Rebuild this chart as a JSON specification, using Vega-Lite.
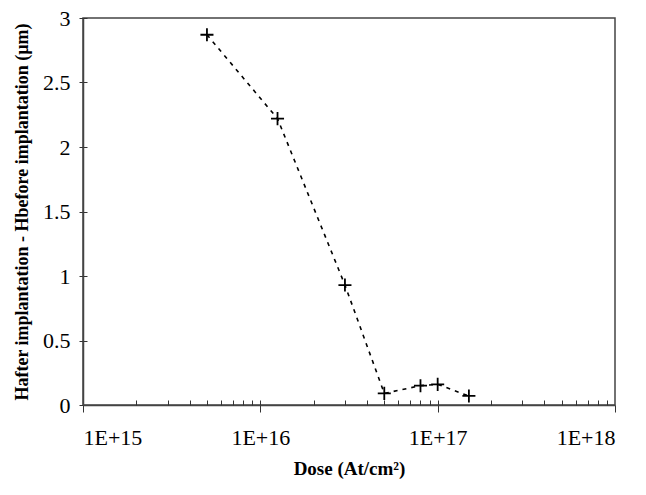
{
  "$schema": "https://vega.github.io/schema/vega-lite/v6.json",
  "width": 532,
  "height": 387,
  "autosize": {"type": "none"},
  "padding": {"left": 83, "top": 18, "right": 31, "bottom": 90},
  "background": "white",
  "config": {
    "view": {"stroke": "#444", "strokeWidth": 1.5},
    "font": "Liberation Serif",
    "axis": {"grid": false, "labelFont": "Liberation Serif", "titleFont": "Liberation Serif", "labelColor": "black", "titleColor": "black", "tickColor": "#333", "domainColor": "#444", "domainWidth": 1.5, "tickWidth": 1}
  },
  "data": {
    "values": [
      {"dose": 5e15, "dh": 2.87},
      {"dose": 1.25e16, "dh": 2.22},
      {"dose": 3e16, "dh": 0.93},
      {"dose": 5e16, "dh": 0.09},
      {"dose": 8e16, "dh": 0.15},
      {"dose": 1e17, "dh": 0.16},
      {"dose": 1.5e17, "dh": 0.07}
    ]
  },
  "layer": [
    {
      "mark": {"type": "line", "color": "black", "strokeWidth": 1.6, "strokeDash": [4, 5]},
      "encoding": {
        "x": {"field": "dose", "type": "quantitative",
          "scale": {"type": "log", "domain": [1e15, 1e18]},
          "axis": {"orient": "bottom", "values": [1e15, 1e16, 1e17, 1e18], "tickSize": 7,
            "labelExpr": "'1E+' + round(log(datum.value)/LN10)", "labelFontSize": 22, "labelPadding": 15,
            "title": "Dose (At/cm²)", "titleFontSize": 19, "titleFontWeight": "bold", "titlePadding": 11}},
        "y": {"field": "dh", "type": "quantitative",
          "scale": {"domain": [0, 3], "nice": false, "zero": true},
          "axis": {"orient": "left", "values": [0, 0.5, 1, 1.5, 2, 2.5, 3], "tickSize": 4, "format": "~g",
            "labelFontSize": 22, "labelPadding": 9,
            "title": "Hafter implantation - Hbefore implantation (µm)", "titleFontSize": 18, "titleFontWeight": "bold", "titlePadding": 11, "titleLimit": 500}}
      }
    },
    {
      "mark": {"type": "point", "shape": "M-1,0L1,0M0,-1L0,1", "filled": false, "stroke": "black", "strokeWidth": 1.8, "size": 170, "opacity": 1},
      "encoding": {
        "x": {"field": "dose", "type": "quantitative",
          "axis": {"orient": "bottom", "values": [2e15,3e15,4e15,5e15,6e15,7e15,8e15,9e15,2e16,3e16,4e16,5e16,6e16,7e16,8e16,9e16,2e17,3e17,4e17,5e17,6e17,7e17,8e17,9e17,1e16,1e17],
            "tickSize": -5, "labels": false, "domain": false, "title": null}},
        "y": {"field": "dh", "type": "quantitative",
          "axis": {"orient": "left", "values": [0.5, 1, 1.5, 2, 2.5, 3], "tickSize": -4, "labels": false, "domain": false, "title": null}}
      }
    }
  ],
  "resolve": {"axis": {"x": "independent", "y": "independent"}}
}
